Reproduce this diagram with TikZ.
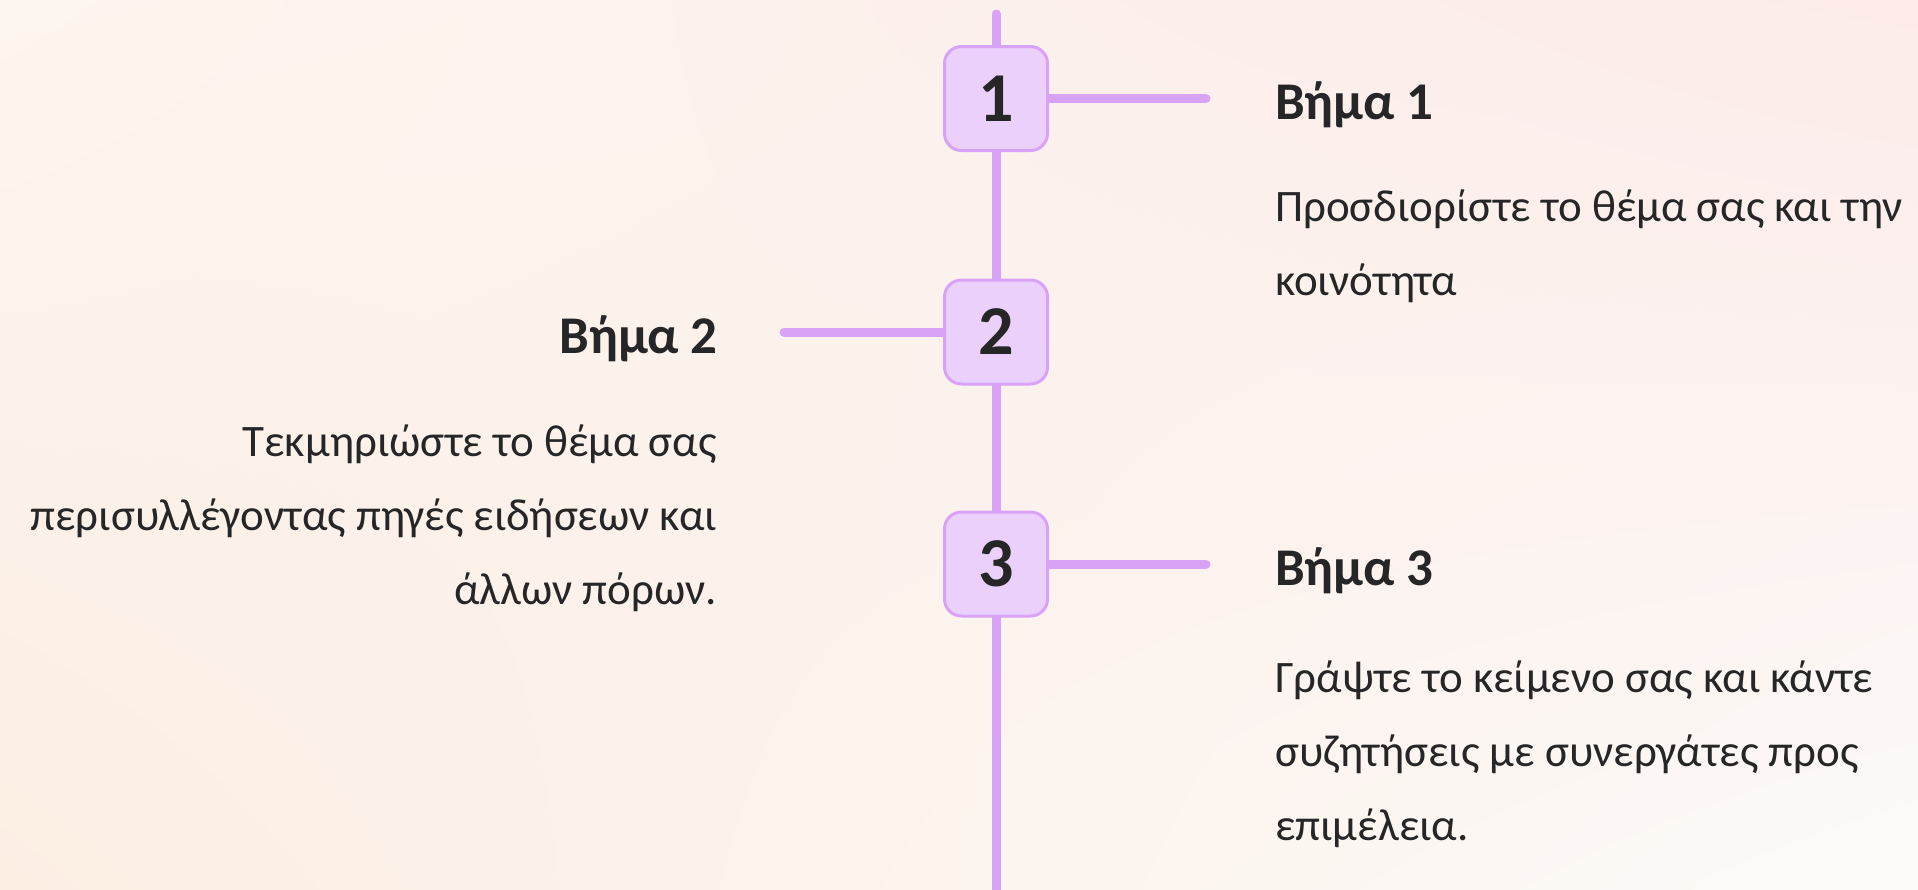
\documentclass[tikz,border=0pt]{standalone}
\usepackage{fontspec}
\setmainfont{Carlito}
\usetikzlibrary{backgrounds,shadings}
\pgfdeclarelayer{backdrop}
\pgfsetlayers{backdrop,background,main}
\definecolor{railc}{HTML}{D8A2F6}
\definecolor{boxfill}{HTML}{EBD0FB}
\definecolor{ink}{HTML}{262626}
\definecolor{bgul}{HTML}{FDF5EF}
\definecolor{bgur}{HTML}{FCEBE9}
\definecolor{bgll}{HTML}{FCEEE3}
\definecolor{bglr}{HTML}{FCFAF8}
\tikzset{
  numbox/.style={draw=railc, line width=3pt, fill=boxfill, rounded corners=17pt,
    minimum width=103pt, minimum height=104pt, inner sep=0pt, text=ink,
    font=\fontsize{70}{70}\selectfont\bfseries},
  rail/.style={draw=railc, line width=9pt, line cap=round},
  heading/.style={text=ink, inner sep=0pt, font=\fontsize{53}{53}\selectfont\bfseries},
  body/.style={text=ink, inner sep=0pt, font=\fontsize{45}{74}\selectfont},
}
\begin{document}
\begin{tikzpicture}[x=1pt,y=-1pt]
    \begin{pgfonlayer}{backdrop}
    \shade[upper left=bgul, upper right=bgur, lower left=bgll, lower right=bglr]
          (0,0) rectangle (1918,889);
    \end{pgfonlayer}
    \useasboundingbox (0,0) rectangle (1918,889);

    \coordinate (top) at (996,14);
    \coordinate (bot) at (996,900);

    \node[numbox] (n1) at (996,98.5) {1};
    \node[numbox] (n2) at (996,332) {2};
    \node[numbox] (n3) at (996,564) {3};

    \coordinate (e1) at (1206,98.5);
    \coordinate (e2) at (784,332);
    \coordinate (e3) at (1206,564);

    \begin{pgfonlayer}{background}
    \draw[rail] (top) -- (n1) -- (n2) -- (n3) -- (bot);
    \draw[rail] (n1) -- (e1);
    \draw[rail] (n2) -- (e2);
    \draw[rail] (n3) -- (e3);
    \end{pgfonlayer}

    \node[heading, anchor=base west] (h1) at (1275,119) {Βήμα 1};
    \node[body, anchor=north west, align=left] (t1) at (1275,189.5)
          {Προσδιορίστε το θέμα σας και την\\κοινότητα};

    \node[heading, anchor=base east] (h2) at (718,353) {Βήμα 2};
    \node[body, anchor=north east, align=right] (t2) at (717,424.5)
          {Τεκμηριώστε το θέμα σας\\περισυλλέγοντας πηγές ειδήσεων και\\άλλων πόρων.};

    \node[heading, anchor=base west] (h3) at (1275,585) {Βήμα 3};
    \node[body, anchor=north west, align=left] (t3) at (1275,661)
          {Γράψτε το κείμενο σας και κάντε\\συζητήσεις με συνεργάτες προς\\επιμέλεια.};
\end{tikzpicture}
\end{document}
